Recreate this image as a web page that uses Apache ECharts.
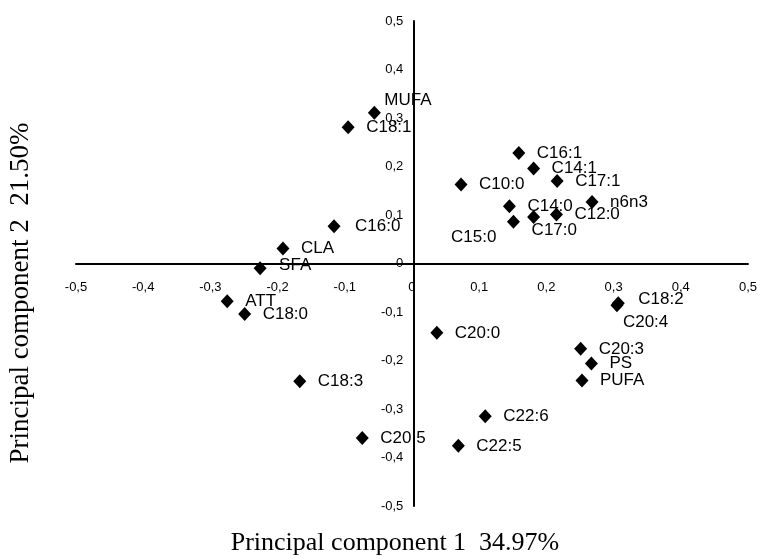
<!DOCTYPE html>
<html>
<head>
<meta charset="utf-8">
<script src="https://cdn.jsdelivr.net/npm/echarts@6/dist/echarts.min.js"></script>
<style>
html,body{margin:0;padding:0;background:#fff;}
#chart{width:760px;height:558px;}
</style>
</head>
<body>
<div id="chart"></div>
<script>
const names = ['MUFA','C18:1','C16:1','C14:1','C17:1','C10:0','C14:0','n6n3','C12:0','C17:0','C15:0','C16:0','CLA','SFA','ATT','C18:0','C18:2','C20:4','C20:3','PS','PUFA','C20:0','C18:3','C22:6','C20:5','C22:5'];
const pc1 = [-0.056,-0.095,0.159,0.181,0.216,0.073,0.145,0.268,0.215,0.181,0.151,-0.116,-0.192,-0.226,-0.275,-0.249,0.307,0.305,0.251,0.267,0.253,0.037,-0.167,0.109,-0.074,0.069];
const pc2 = [0.311,0.281,0.228,0.196,0.170,0.163,0.118,0.127,0.101,0.096,0.086,0.077,0.031,-0.010,-0.078,-0.104,-0.082,-0.086,-0.176,-0.206,-0.241,-0.143,-0.243,-0.315,-0.360,-0.376];
const xTitle = 'Principal component 1  34.97%';
const yTitle = 'Principal component 2  21.50%';

// label placement tweaks (style only)
const labelTweaks = {
  'MUFA': {position:'right', offset:[-8,-12]},
  'C17:0': {position:'right', offset:[-20,13]},
  'C15:0': {position:'left', offset:[1,16]},
  'C20:4': {position:'right', offset:[-12,17]},
  'C18:2': {position:'right', offset:[2,-4]},
  'SFA': {position:'right', offset:[1,-3]},
  'C16:0': {position:'right', offset:[3,0]}
};

const fmt = v => {
  const r = Math.round(v*10)/10;
  return String(r).replace('.', ',');
};

const data = names.map((n,i) => {
  const item = {name:n, value:[pc1[i], pc2[i]]};
  if (labelTweaks[n]) item.label = labelTweaks[n];
  return item;
});

const W = 760, H = 558;
const G = {left:76, right:9.4, top:21, bottom:52};
const gw = W - G.left - G.right, gh = H - G.top - G.bottom;
const xMin = -0.5, xMax = 0.5, yMin = -0.5, yMax = 0.5;
// move axes so they cross at the origin (labels follow)
const xOffset = -gh * (0 - yMin) / (yMax - yMin);
const yOffset = -gw * (0 - xMin) / (xMax - xMin);

const chart = echarts.init(document.getElementById('chart'), null, {renderer:'canvas'});
chart.setOption({
  animation:false,
  backgroundColor:'#fff',
  grid:{left:G.left, right:G.right, top:G.top, bottom:G.bottom, containLabel:false},
  xAxis:{
    type:'value', min:xMin, max:xMax, interval:0.1, position:'bottom', offset:xOffset,
    axisLine:{onZero:false, lineStyle:{color:'#000', width:2}},
    axisTick:{show:false},
    splitLine:{show:false},
    axisLabel:{color:'#000', fontSize:13, fontFamily:'Liberation Sans, Arial, sans-serif', margin:17, formatter:fmt, showMinLabel:true, showMaxLabel:true}
  },
  yAxis:{
    type:'value', min:yMin, max:yMax, interval:0.1, position:'left', offset:yOffset,
    axisLine:{onZero:false, lineStyle:{color:'#000', width:2}},
    axisTick:{show:false},
    splitLine:{show:false},
    axisLabel:{color:'#000', fontSize:13, fontFamily:'Liberation Sans, Arial, sans-serif', margin:10, formatter:fmt, showMinLabel:true, showMaxLabel:true}
  },
  series:[{
    type:'scatter',
    symbol:'diamond',
    symbolSize:[13,14],
    itemStyle:{color:'#000', opacity:1},
    data:data,
    label:{
      show:true, position:'right', distance:11.5,
      formatter:'{b}', color:'#000', fontSize:17,
      fontFamily:'Liberation Sans, Arial, sans-serif'
    },
    emphasis:{disabled:true}
  }],
  graphic:[
    {type:'text', x:395, y:543, style:{text:xTitle, fill:'#000', fontSize:26, fontFamily:'Liberation Serif, Times New Roman, serif', align:'center', verticalAlign:'middle'}},
    {type:'text', x:21, y:293, rotation:Math.PI/2, style:{text:yTitle, fill:'#000', fontSize:27, fontFamily:'Liberation Serif, Times New Roman, serif', align:'center', verticalAlign:'middle'}}
  ]
});
</script>
</body>
</html>
